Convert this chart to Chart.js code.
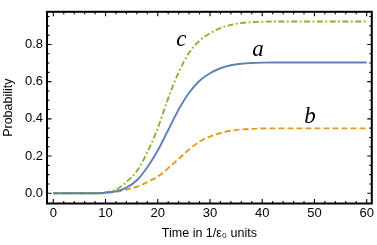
<!DOCTYPE html>
<html>
<head>
<meta charset="utf-8">
<script src="https://cdn.jsdelivr.net/npm/chart.js@4.4.0/dist/chart.umd.min.js"></script>
<style>
  html, body { margin: 0; padding: 0; background: #fff; }
  #wrap { width: 377px; height: 245px; position: relative; }
</style>
</head>
<body>
<div id="wrap"><canvas id="probChart"></canvas></div>
<script>
// ── data ───────────────────────────────────────────────────────────
const times = [0, 2, 4, 6, 8, 10, 12, 14, 16, 18, 20, 22, 24, 26, 28, 30,
               32, 34, 36, 38, 40, 42, 44, 46, 48, 50, 52, 54, 56, 58, 60];

const probA = [0, 0, 0, 0, 0, 0.003, 0.01, 0.03, 0.07, 0.14, 0.23, 0.34, 0.45, 0.54, 0.605, 0.645,
               0.672, 0.688, 0.696, 0.70, 0.702, 0.703, 0.703, 0.703, 0.703, 0.703, 0.703, 0.703, 0.703, 0.703, 0.703];
const probB = [0, 0, 0, 0, 0, 0.002, 0.008, 0.02, 0.035, 0.06, 0.09, 0.135, 0.185, 0.235, 0.278, 0.305,
               0.324, 0.336, 0.343, 0.346, 0.348, 0.349, 0.349, 0.349, 0.349, 0.349, 0.349, 0.349, 0.349, 0.349, 0.349];
const probC = [0, 0, 0, 0, 0, 0.005, 0.02, 0.06, 0.12, 0.22, 0.35, 0.51, 0.65, 0.755, 0.82, 0.86,
               0.888, 0.905, 0.915, 0.92, 0.922, 0.923, 0.923, 0.923, 0.923, 0.923, 0.923, 0.923, 0.923, 0.923, 0.923];

const xTicks = [0, 10, 20, 30, 40, 50, 60];
const yTicks = [0, 0.2, 0.4, 0.6, 0.8];

const curveNames = ['a', 'b', 'c'];
const curveTagAt = [[39.2, 0.738], [49.15, 0.376], [24.5, 0.789]];

const SANS = "'Liberation Sans', Arial, sans-serif";
const INK  = '#000';

const pts = ys => times.map((t, i) => ({ x: t, y: ys[i] }));

// frame with inward major / minor ticks on all four sides, plus curve tags
const framePlugin = {
  id: 'frame',
  afterDatasetsDraw(chart) {
    const { ctx, chartArea: a, scales: { x, y } } = chart;
    ctx.save();
    ctx.strokeStyle = INK;
    ctx.lineWidth = 1.1;
    ctx.beginPath();
    for (let v = 0; v <= 60; v += 2) {
      const px = x.getPixelForValue(v);
      const len = v % 10 === 0 ? 4.5 : 2.5;
      ctx.moveTo(px, a.bottom); ctx.lineTo(px, a.bottom - len);
      ctx.moveTo(px, a.top);    ctx.lineTo(px, a.top + len);
    }
    for (let k = 0; k <= 19; k++) {
      const v = k * 0.05;
      const py = y.getPixelForValue(v);
      if (py < a.top) continue;
      const len = k % 4 === 0 ? 4.5 : 2.5;
      ctx.moveTo(a.left, py);  ctx.lineTo(a.left + len, py);
      ctx.moveTo(a.right, py); ctx.lineTo(a.right - len, py);
    }
    ctx.stroke();
    ctx.lineWidth = 2;
    ctx.strokeRect(a.left, a.top, a.right - a.left, a.bottom - a.top);

    ctx.fillStyle = INK;
    ctx.font = "italic 23px 'Liberation Serif', 'Times New Roman', serif";
    ctx.textAlign = 'center';
    ctx.textBaseline = 'alphabetic';
    curveNames.forEach((n, i) => {
      ctx.fillText(n, x.getPixelForValue(curveTagAt[i][0]), y.getPixelForValue(curveTagAt[i][1]));
    });
    ctx.restore();
  },
};

const ctx = document.getElementById('probChart').getContext('2d');
new Chart(ctx, {
  type: 'line',
  data: {
    datasets: [
      {
        label: 'a',
        data: pts(probA),
        borderColor: '#5E81B5',
        borderWidth: 1.9,
        pointRadius: 0,
        fill: false,
        cubicInterpolationMode: 'monotone',
      },
      {
        label: 'b',
        data: pts(probB),
        borderColor: '#E19C24',
        borderWidth: 1.9,
        borderDash: [6, 3],
        pointRadius: 0,
        fill: false,
        cubicInterpolationMode: 'monotone',
      },
      {
        label: 'c',
        data: pts(probC),
        borderColor: '#8FB032',
        borderWidth: 1.9,
        borderDash: [6, 2.5, 1.8, 2.5],
        pointRadius: 0,
        fill: false,
        cubicInterpolationMode: 'monotone',
      },
    ],
  },
  options: {
    responsive: true,
    maintainAspectRatio: false,
    animation: false,
    events: [],
    layout: { padding: { top: 1.5, right: 5.2, left: 0, bottom: 0 } },
    plugins: { legend: { display: false }, tooltip: { enabled: false } },
    scales: {
      x: {
        type: 'linear',
        min: -1.206,
        max: 60.98,
        afterBuildTicks: s => { s.ticks = xTicks.map(v => ({ value: v })); },
        afterFit: s => { s.height = 41.5; },
        grid: { display: false, drawTicks: false },
        border: { display: false },
        ticks: { color: INK, font: { family: SANS, size: 13 }, padding: 2.5, maxRotation: 0 },
        title: {
          display: true,
          text: 'Time in 1/ε₀ units',
          color: INK,
          font: { family: SANS, size: 12.5 },
          padding: { top: 0, bottom: 4 },
        },
      },
      y: {
        min: -0.0551,
        max: 0.9755,
        afterBuildTicks: s => { s.ticks = yTicks.map(v => ({ value: v })); },
        afterFit: s => { s.width = 47; },
        grid: { display: false, drawTicks: false },
        border: { display: false },
        ticks: { color: INK, font: { family: SANS, size: 13 }, padding: 4, callback: v => v.toFixed(1) },
        title: {
          display: true,
          text: 'Probability',
          color: INK,
          font: { family: SANS, size: 12.5 },
          padding: { top: 1, bottom: 0 },
        },
      },
    },
  },
  plugins: [framePlugin],
});
</script>
</body>
</html>
